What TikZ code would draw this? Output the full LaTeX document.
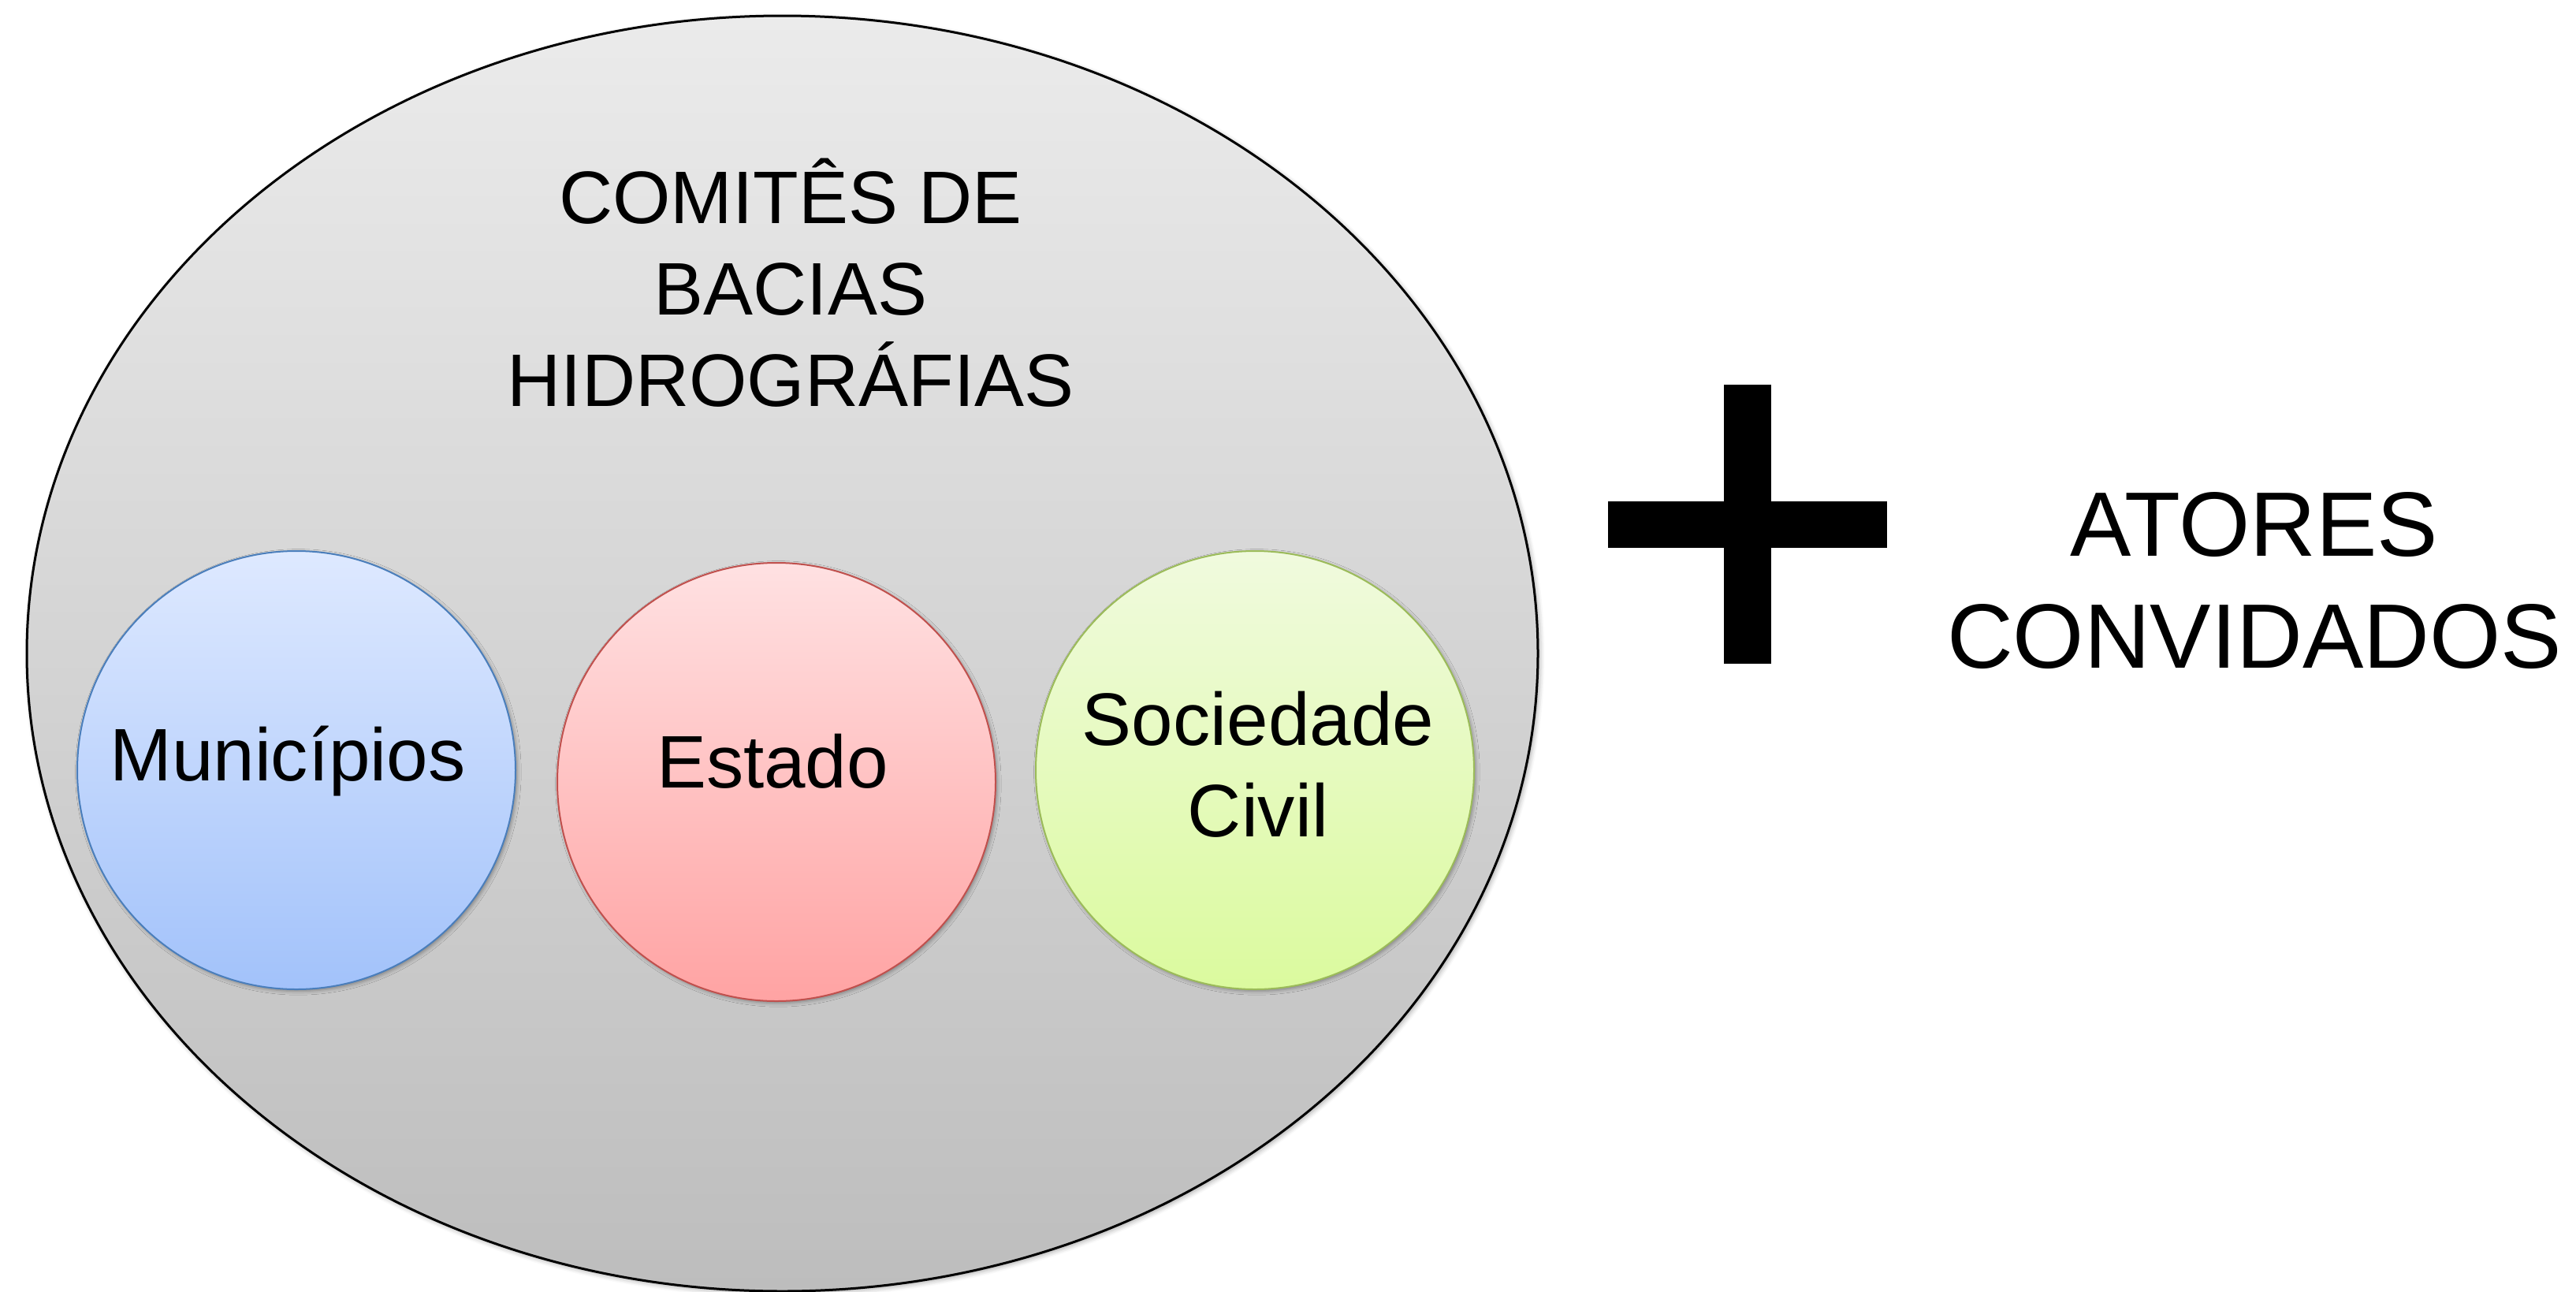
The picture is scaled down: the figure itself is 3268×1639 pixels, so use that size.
\documentclass[tikz,border=0pt]{standalone}
\usepackage{fontspec}
\setmainfont{Liberation Sans}
\usetikzlibrary{shapes.geometric,shadows.blur}
\definecolor{grayTop}{HTML}{EBEBEB}
\definecolor{grayBot}{HTML}{BDBDBD}
\definecolor{blueTop}{HTML}{DEE9FF}
\definecolor{blueBot}{HTML}{A2C2FA}
\definecolor{blueLine}{HTML}{4A7EBB}
\definecolor{redTop}{HTML}{FFE1E2}
\definecolor{redBot}{HTML}{FFA3A3}
\definecolor{redLine}{HTML}{C0504D}
\definecolor{greenTop}{HTML}{F0FADE}
\definecolor{greenBot}{HTML}{DBFA9E}
\definecolor{greenLine}{HTML}{9BBB59}
\tikzset{
  bubble/.style={circle, inner sep=0pt, minimum size=139pt, line width=0.5pt,
    blur shadow={shadow xshift=0.6pt, shadow yshift=-0.6pt, shadow blur radius=1.2pt, shadow opacity=35}},
  lbl/.style={font=\fontsize{23.6}{28.9}\selectfont, inner sep=0pt, align=center},
  bigtxt/.style={font=\fontsize{29}{35.3}\selectfont, inner sep=0pt, align=center},
  plusbar/.style={fill=black}
}
\begin{document}
\begin{tikzpicture}[x=0.25pt, y=-0.25pt]
\useasboundingbox (0,0) rectangle (3268,1639);
% big ellipse
\node[ellipse, draw=black, line width=0.75pt, inner sep=0pt,
      minimum width=479.25pt, minimum height=404.5pt,
      top color=grayTop, bottom color=grayBot,
      blur shadow={shadow xshift=0.6pt, shadow yshift=-0.6pt, shadow blur radius=1.5pt, shadow opacity=35}]
      (comite) at (992.5,829) {};
\node[lbl, anchor=base] (titulo) at (1003,515) {COMITÊS DE\\BACIAS\\HIDROGRÁFIAS};
% three circles
\node[bubble, draw=blueLine, top color=blueTop, bottom color=blueBot] (mun) at (376,977) {};
\node[bubble, draw=redLine, top color=redTop, bottom color=redBot] (est) at (985,992) {};
\node[bubble, draw=greenLine, top color=greenTop, bottom color=greenBot] (soc) at (1592,977) {};
\node[lbl, anchor=base] (munt) at (365,990) {Municípios};
\node[lbl, anchor=base] (estt) at (980,999) {Estado};
\node[lbl, anchor=base] (soct) at (1596,1061) {Sociedade\\Civil};
% plus sign
\fill[plusbar] (2187,488) rectangle (2247,842);
\fill[plusbar] (2040,636) rectangle (2394,695);
\node[bigtxt, anchor=base] (atores) at (2860,847) {ATORES\\CONVIDADOS};
\end{tikzpicture}
\end{document}
